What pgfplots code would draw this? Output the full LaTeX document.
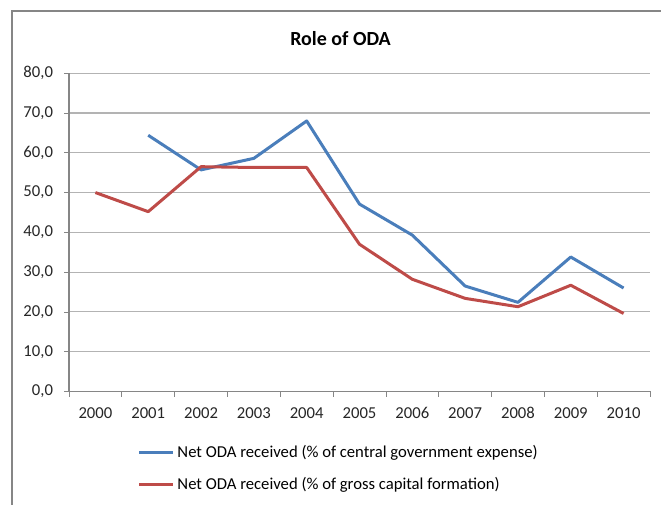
\documentclass[border=0pt]{standalone}
\usepackage{fontspec}
\setmainfont{Carlito}
\usepackage{pgfplots}
\pgfplotsset{compat=1.18}

\definecolor{odablue}{RGB}{74,126,187}
\definecolor{odared}{RGB}{190,75,72}
\definecolor{gridgray}{RGB}{179,179,179}
\definecolor{axisgray}{RGB}{134,134,134}

\begin{document}
\begin{tikzpicture}
  % page = 661 x 504 px at 0.75pt per px
  \useasboundingbox (0,0) rectangle (495.75pt,378pt);
  % chart area frame (left and top edges visible)
  \draw[axisgray, line width=0.9pt] (9pt,-2pt) -- (9pt,369.75pt) -- (500pt,369.75pt);
  \node[font=\fontsize{15}{18}\selectfont\bfseries] at (255.4pt,349pt) {Role of ODA};

  \begin{axis}[
    scale only axis,
    anchor=south west,
    at={(51.75pt,84.4pt)},
    width=435.75pt, height=238.7pt,
    xmin=-0.5, xmax=10.5,
    ymin=0, ymax=80,
    xtick={0,...,10},
    xticklabels={2000,2001,2002,2003,2004,2005,2006,2007,2008,2009,2010},
    major x tick style={draw=none},
    minor xtick={-0.5,0.5,...,10.5},
    minor tick length=4pt,
    ytick={0,10,...,80},
    major tick length=3.5pt,
    tick align=outside,
    tick style={axisgray, line width=0.6pt},
    axis x line*=bottom,
    axis y line*=left,
    axis line style={axisgray, line width=0.8pt, -},
    ymajorgrids=true,
    grid style={gridgray, line width=0.8pt},
    ticklabel style={font=\fontsize{12.5}{15}\selectfont, text=black!85},
    xticklabel style={text height=9pt, text depth=0pt, yshift=-4pt},
    yticklabel style={xshift=-5pt, /pgf/number format/.cd, fixed, fixed zerofill, precision=1, use comma, assume math mode=true},
    legend style={draw=none, fill=none, at={(0.118,-0.168)}, anchor=north west,
      inner xsep=0pt, inner ysep=0pt, row sep=12.5pt,
      font=\fontsize{12.5}{15}\selectfont,
      nodes={inner sep=0pt, text height=9pt, text depth=2.5pt}},
    legend cell align=left,
    legend image code/.code={\draw[#1, line width=2.25pt] (0pt,0pt) -- (25.5pt,0pt);},
    legend columns=1,
  ]
    \addplot[odablue, line width=2.25pt, line join=round] coordinates {
      (1,64.4) (2,55.7) (3,58.6) (4,68.0) (5,47.1) (6,39.3)
      (7,26.5) (8,22.4) (9,33.8) (10,26.0)
    };
    \addlegendentry{\hspace{2pt}Net ODA received (\% of central government expense)}
    \addplot[odared, line width=2.25pt, line join=round] coordinates {
      (0,50.0) (1,45.2) (2,56.5) (3,56.3) (4,56.3) (5,37.0) (6,28.2)
      (7,23.4) (8,21.3) (9,26.7) (10,19.6)
    };
    \addlegendentry{\hspace{2pt}Net ODA received (\% of gross capital formation)}
  \end{axis}
\end{tikzpicture}
\end{document}
